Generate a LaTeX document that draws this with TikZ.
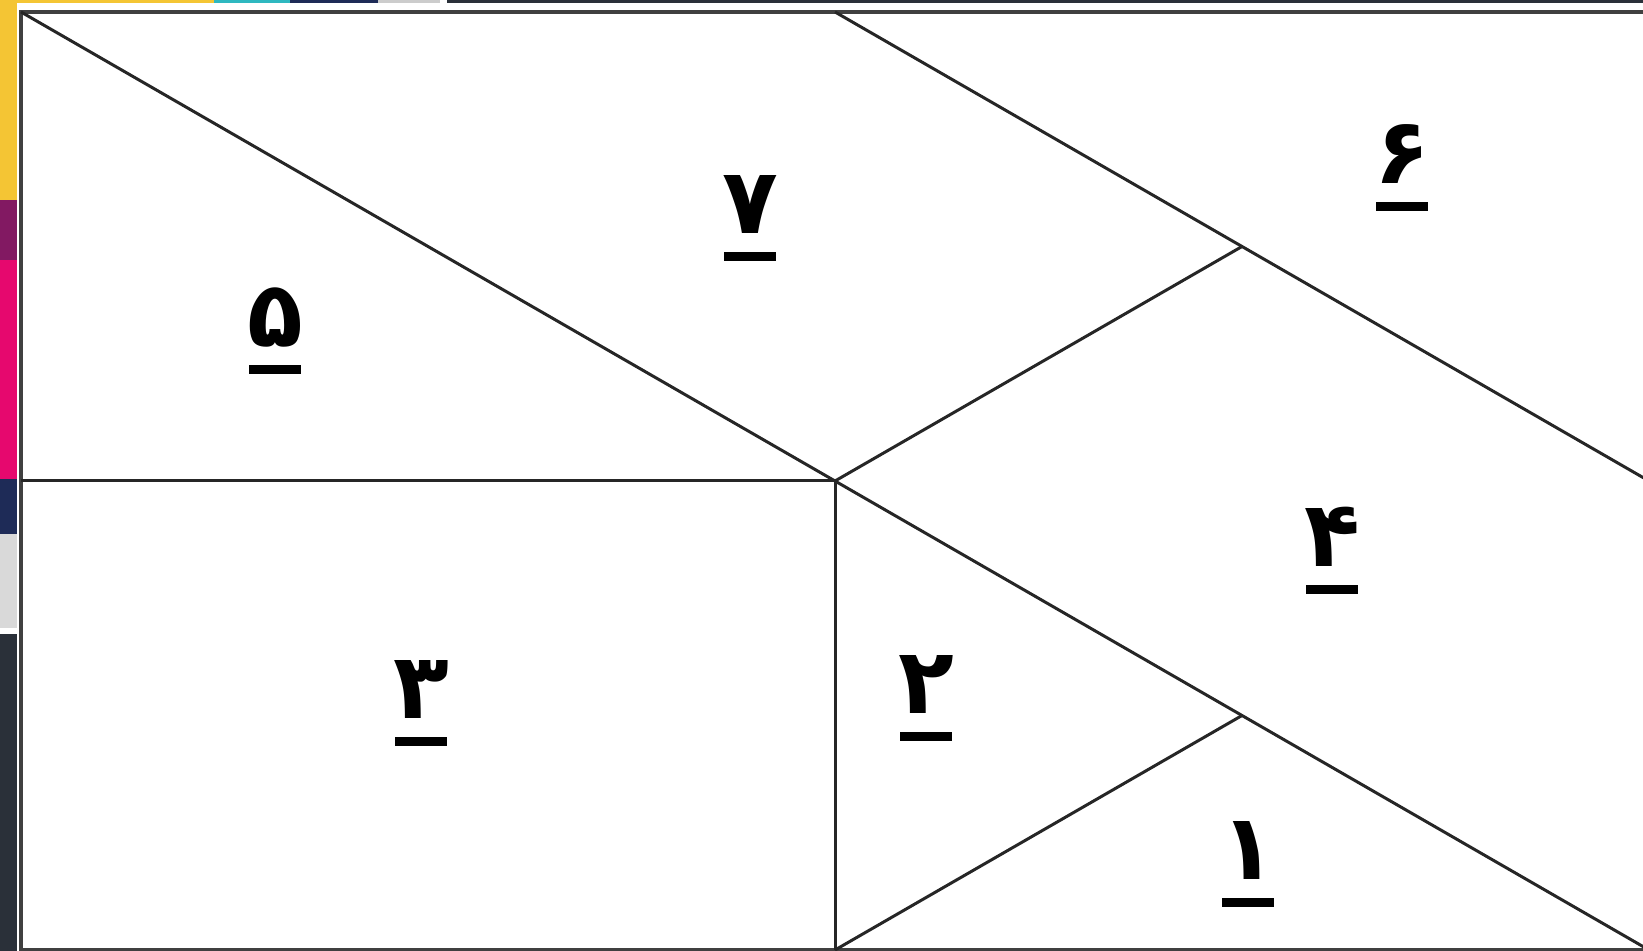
\documentclass[tikz,border=0pt]{standalone}
\usepackage{fontspec}
\usetikzlibrary{calc}
\newfontfamily\digitfont[Script=Arabic]{DejaVu Sans}
\definecolor{stripyellow}{HTML}{F4C534}
\definecolor{strippink}{HTML}{E6086E}
\definecolor{stripnavy}{HTML}{1E2B57}
\definecolor{stripdark}{HTML}{2A3039}
\definecolor{stripteal}{HTML}{2FB8C0}

\begin{document}
\begin{tikzpicture}[
  piecenum/.style={font=\digitfont\bfseries\fontsize{26}{28}\selectfont,
                   inner sep=0pt, anchor=south, align=center},
  edge/.style={draw=black!85, line width=0.85pt},
  frame/.style={draw=black!75, line width=1.1pt},
]
\useasboundingbox (0,0) rectangle (16.43,-9.51);
\clip (0,0) rectangle (16.43,-9.51);

% ── Screen edges ───────────────────────────────────────────────────────
\fill[stripyellow]      (0,0) rectangle (0.17,-2.00);
\fill[strippink!50!stripnavy] (0,-2.00) rectangle (0.17,-2.60);
\fill[strippink]        (0,-2.60) rectangle (0.17,-4.79);
\fill[stripnavy]        (0,-4.79) rectangle (0.17,-5.34);
\fill[gray!30]          (0,-5.34) rectangle (0.17,-6.28);
\fill[stripdark]        (0,-6.34) rectangle (0.17,-9.51);
\fill[stripyellow]      (0,0) rectangle (2.14,-0.03);
\fill[stripteal]        (2.14,0) rectangle (2.90,-0.03);
\fill[stripnavy]        (2.90,0) rectangle (3.78,-0.03);
\fill[gray!40]          (3.78,0) rectangle (4.40,-0.03);
\fill[stripdark]        (4.47,0) rectangle (16.43,-0.03);

% ── Corners and cuts ───────────────────────────────────────────────────
\coordinate (TL) at (0.21,-0.12);
\coordinate (TM) at (8.35,-0.12);
\coordinate (ML) at (0.21,-4.81);
\coordinate (C)  at (8.35,-4.81);
\coordinate (MR) at (16.49,-4.81);
\coordinate (BM) at (8.35,-9.50);
\coordinate (BR) at (16.49,-9.50);
\coordinate (P)  at ($(TM)!0.5!(MR)$);
\coordinate (Q)  at ($(C)!0.5!(BR)$);

\draw[frame] (TL) rectangle (BR);

\draw[edge] (TL) -- (C);
\draw[edge] (TM) -- (MR);
\draw[edge] (C) -- (BR);
\draw[edge] (ML) -- (C);
\draw[edge] (C) -- (BM);
\draw[edge] (C) -- (P);
\draw[edge] (BM) -- (Q);

% ── Piece numbers ──────────────────────────────────────────────────────
\node[piecenum] (n7) at (7.50,-2.62)  {۷\\[-20pt]\rule{0.52cm}{0.09cm}};
\node[piecenum] (n6) at (14.02,-2.12) {۶\\[-20pt]\rule{0.52cm}{0.09cm}};
\node[piecenum] (n5) at (2.75,-3.75)  {۵\\[-20pt]\rule{0.52cm}{0.09cm}};
\node[piecenum] (n4) at (13.32,-5.95) {۴\\[-20pt]\rule{0.52cm}{0.09cm}};
\node[piecenum] (n3) at (4.21,-7.47)  {۳\\[-20pt]\rule{0.52cm}{0.09cm}};
\node[piecenum] (n2) at (9.26,-7.42)  {۲\\[-20pt]\rule{0.52cm}{0.09cm}};
\node[piecenum] (n1) at (12.48,-9.08) {۱\\[-20pt]\rule{0.52cm}{0.09cm}};

\end{tikzpicture}
\end{document}
